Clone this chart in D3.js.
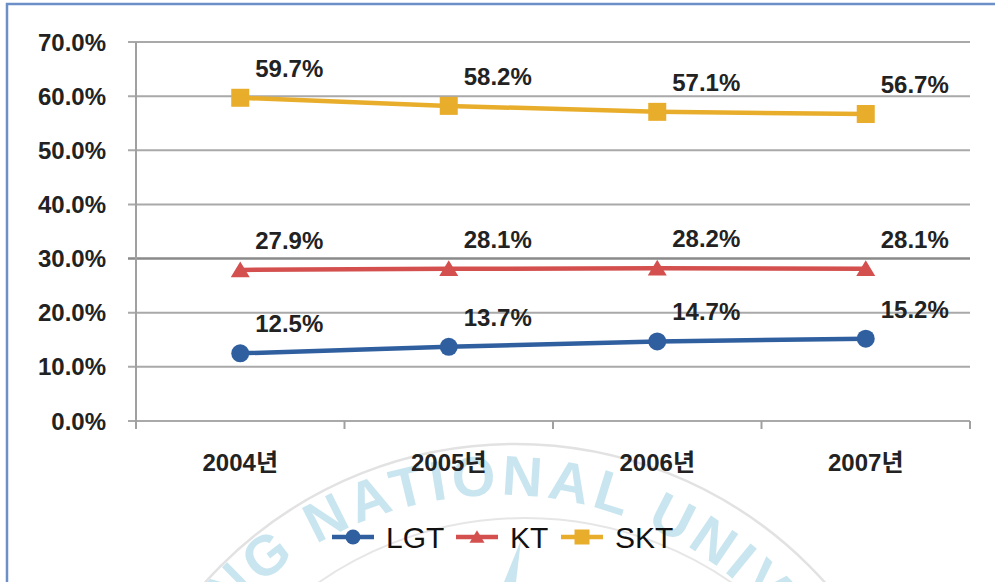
<!DOCTYPE html>
<html>
<head>
<meta charset="utf-8">
<title>Market share</title>
<script src="https://cdn.jsdelivr.net/npm/d3@7"></script>
<style>
  body { margin: 0; background: #fff; }
  svg { display: block; }
  .tick-label { font-family: "Liberation Sans", "Noto Sans CJK KR", sans-serif; font-weight: bold; font-size: 24px; fill: #222; }
  .data-label { font-family: "Liberation Sans", sans-serif; font-weight: bold; font-size: 24px; fill: #222; }
  .legend-text { font-family: "Liberation Sans", sans-serif; font-size: 30px; fill: #111; }
</style>
</head>
<body>
<script>
// data
var years = ["2004년", "2005년", "2006년", "2007년"];
var lgt = [12.5, 13.7, 14.7, 15.2];
var kt = [27.9, 28.1, 28.2, 28.1];
var skt = [59.7, 58.2, 57.1, 56.7];
var seriesNames = ["LGT", "KT", "SKT"];
var yTicks = [0, 10, 20, 30, 40, 50, 60, 70];

var series = [
  {name: "LGT", values: lgt, color: "#2f5f9f", shape: "circle"},
  {name: "KT", values: kt, color: "#d4504f", shape: "triangle"},
  {name: "SKT", values: skt, color: "#e9ad2c", shape: "square"}
];

var W = 995, H = 582;
var margin = {top: 42, left: 136, right: 25, bottom: 161};

var svg = d3.select("body").append("svg")
  .attr("width", W).attr("height", H);

//// watermark (faint university seal behind the chart)
var wm = svg.append("g").attr("class", "watermark");
var cx = 500, cy = 860;
wm.append("circle").attr("cx", cx + 15).attr("cy", cy).attr("r", 416)
  .attr("fill", "none").attr("stroke", "#e2e2e2").attr("stroke-width", 2.5);
wm.append("circle").attr("cx", cx + 25).attr("cy", cy + 20).attr("r", 362)
  .attr("fill", "none").attr("stroke", "#e6e6e6").attr("stroke-width", 2);
var arcR = 365;
wm.append("path").attr("id", "wmArc")
  .attr("fill", "none")
  .attr("d", "M " + (cx - arcR) + " " + cy + " A " + arcR + " " + arcR + " 0 0 1 " + (cx + arcR) + " " + cy);
var wmText = wm.append("text")
  .attr("font-family", "Liberation Sans, sans-serif")
  .attr("font-size", 56)
  .attr("font-weight", "bold")
  .attr("letter-spacing", 4.7)
  .attr("fill", "#c9e5ef");
var wmPath = wmText.append("textPath")
  .attr("href", "#wmArc")
  .text("UNG NATIONAL UNIVERSITY");
// put the "G" at about -41 degrees from the top of the seal
var gStart = arcR * (Math.PI / 2 - 41 * Math.PI / 180);
var lead = wmText.node().getSubStringLength(0, 2);
wmPath.attr("startOffset", gStart - lead);
wm.append("path")
  .attr("d", "M 521 540 L 516 582 L 504 582 Z")
  .attr("fill", "#c9e5ef");

//// outer frame
svg.append("rect")
  .attr("x", 7).attr("y", 4)
  .attr("width", W + 20).attr("height", H + 20)
  .attr("fill", "none").attr("stroke", "#6b8fc6").attr("stroke-width", 2.5);

//// scales
var x = d3.scaleBand().domain(years).range([margin.left, W - margin.right]);
var y = d3.scaleLinear().domain([0, 70]).range([H - margin.bottom, margin.top]);
var x0 = margin.left, x1 = W - margin.right;

//// gridlines + y labels
var grid = svg.append("g");
grid.selectAll("line").data(yTicks).enter().append("line")
  .attr("x1", x0 - 8).attr("x2", x1)
  .attr("y1", function(d) { return y(d); })
  .attr("y2", function(d) { return y(d); })
  .attr("stroke", function(d) { return d == 30 ? "#8a8a8a" : "#a9a9a9"; })
  .attr("stroke-width", function(d) { return d == 30 ? 2.5 : 2; });

svg.append("g").selectAll("text").data(yTicks).enter().append("text")
  .attr("class", "tick-label")
  .attr("x", x0 - 30)
  .attr("y", function(d) { return y(d); })
  .attr("dy", "0.36em")
  .attr("text-anchor", "end")
  .text(function(d) { return d3.format(".1f")(d) + "%"; });

// y axis line
svg.append("line")
  .attr("x1", x0).attr("x2", x0)
  .attr("y1", y(70)).attr("y2", y(0) + 8)
  .attr("stroke", "#a0a0a0").attr("stroke-width", 2);

// category ticks
svg.append("g").selectAll("line").data(years).enter().append("line")
  .attr("x1", function(d) { return x(d) + x.bandwidth(); })
  .attr("x2", function(d) { return x(d) + x.bandwidth(); })
  .attr("y1", y(0)).attr("y2", y(0) + 8)
  .attr("stroke", "#a0a0a0").attr("stroke-width", 2);

// x labels
svg.append("g").selectAll("text").data(years).enter().append("text")
  .attr("class", "tick-label")
  .attr("x", function(d) { return x(d) + x.bandwidth() / 2; })
  .attr("y", y(0) + 50)
  .attr("text-anchor", "middle")
  .text(function(d) { return d; });

//// markers
function drawMarker(g, shape, color, size) {
  if (shape == "circle") {
    g.append("circle").attr("r", size / 2).attr("fill", color);
  } else if (shape == "triangle") {
    var s = size;
    g.append("path")
      .attr("d", "M 0 " + (-s * 0.45) + " L " + (s / 2) + " " + (s * 0.38) + " L " + (-s / 2) + " " + (s * 0.38) + " Z")
      .attr("fill", color);
  } else {
    g.append("rect").attr("x", -size / 2).attr("y", -size / 2)
      .attr("width", size).attr("height", size).attr("fill", color);
  }
}

var line = d3.line()
  .x(function(d, i) { return x(years[i]) + x.bandwidth() / 2; })
  .y(function(d) { return y(d); });

series.forEach(function(s) {
  svg.append("path")
    .datum(s.values)
    .attr("d", line)
    .attr("fill", "none")
    .attr("stroke", s.color)
    .attr("stroke-width", 4.5);

  s.values.forEach(function(v, i) {
    var px = x(years[i]) + x.bandwidth() / 2, py = y(v);
    var g = svg.append("g").attr("transform", "translate(" + px + "," + py + ")");
    drawMarker(g, s.shape, s.color, s.shape == "triangle" ? 19 : 18);

    svg.append("text")
      .attr("class", "data-label")
      .attr("x", px + 15)
      .attr("y", py - 21)
      .text(d3.format(".1f")(v) + "%");
  });
});

//// legend
var legendX = [332, 456, 561];
var legend = svg.append("g");
series.forEach(function(s, i) {
  var g = legend.append("g").attr("transform", "translate(" + legendX[i] + ",537)");
  g.append("line").attr("x1", 0).attr("x2", 42).attr("y1", 0).attr("y2", 0)
    .attr("stroke", s.color).attr("stroke-width", 4.5);
  var m = g.append("g").attr("transform", "translate(21,0)");
  drawMarker(m, s.shape, s.color, 15);
  g.append("text").attr("class", "legend-text")
    .attr("x", 54).attr("y", 11)
    .text(seriesNames[i]);
});
</script>
</body>
</html>
